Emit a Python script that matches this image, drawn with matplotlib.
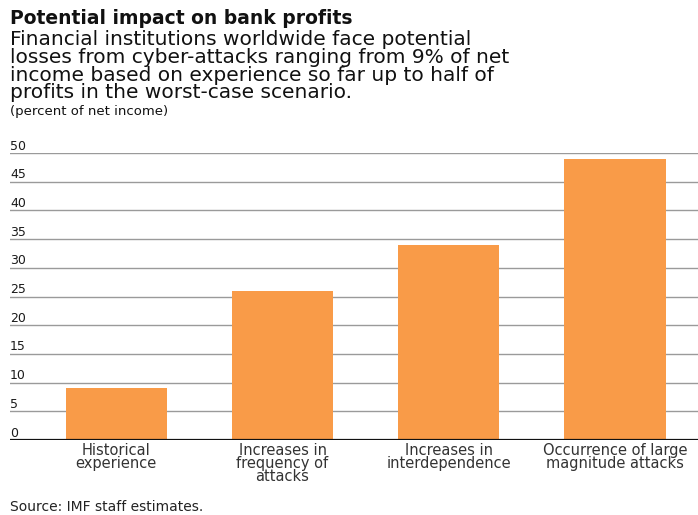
import numpy as np
import matplotlib
matplotlib.use('Agg')
import matplotlib.pyplot as plt

categories = ["Historical\nexperience", "Increases in\nfrequency of\nattacks",
              "Increases in\ninterdependence", "Occurrence of large\nmagnitude attacks"]
values = [9, 26, 34, 49]
yticks = [0, 5, 10, 15, 20, 25, 30, 35, 40, 45, 50]

barcolor = "#f99b48"
plt.rcParams['font.family'] = ['DejaVu Sans']

W, H = 698, 515
fig = plt.figure(figsize=(W/100, H/100), dpi=100)
ax = fig.add_axes([10/W, 1-440/H, (698-10)/W, (440-153)/H])

x = np.arange(len(values))
ax.bar(x, values, width=0.61, color=barcolor, zorder=2)
ax.set_xlim(-0.64, 3.5)
ax.set_ylim(0, 50)

for t in yticks:
    if t > 0:
        ax.axhline(t, color="#9a9a9a", lw=1, zorder=1)
    ax.text(-0.64, t + 0.6, str(t), fontsize=9, color="#1a1a1a", va="baseline", ha="left")
ax.axhline(0, color="#111111", lw=1.6, zorder=3)

for s in ax.spines.values():
    s.set_visible(False)
ax.set_yticks([])
ax.set_xticks(x)
ax.set_xticklabels(categories, fontsize=10.5, color="#333333", linespacing=0.85)
ax.tick_params(axis='x', length=0, pad=2)

fig.text(10/W, 1-24/H, "Potential impact on bank profits", fontsize=13.5, fontweight="bold",
         va="baseline", ha="left", color="#111111")
fig.text(10/W, 1-30/H,
         "Financial institutions worldwide face potential\n"
         "losses from cyber-attacks ranging from 9% of net\n"
         "income based on experience so far up to half of\n"
         "profits in the worst-case scenario.",
         fontsize=14.5, va="top", ha="left", color="#111111", linespacing=0.92)
fig.text(10/W, 1-112/H, "(percent of net income)", fontsize=9.5, va="center", ha="left", color="#111111")
fig.text(10/W, 1-514/H, "Source: IMF staff estimates.", fontsize=10, va="bottom", ha="left", color="#222222")

fig.savefig("out.png", dpi=100)
